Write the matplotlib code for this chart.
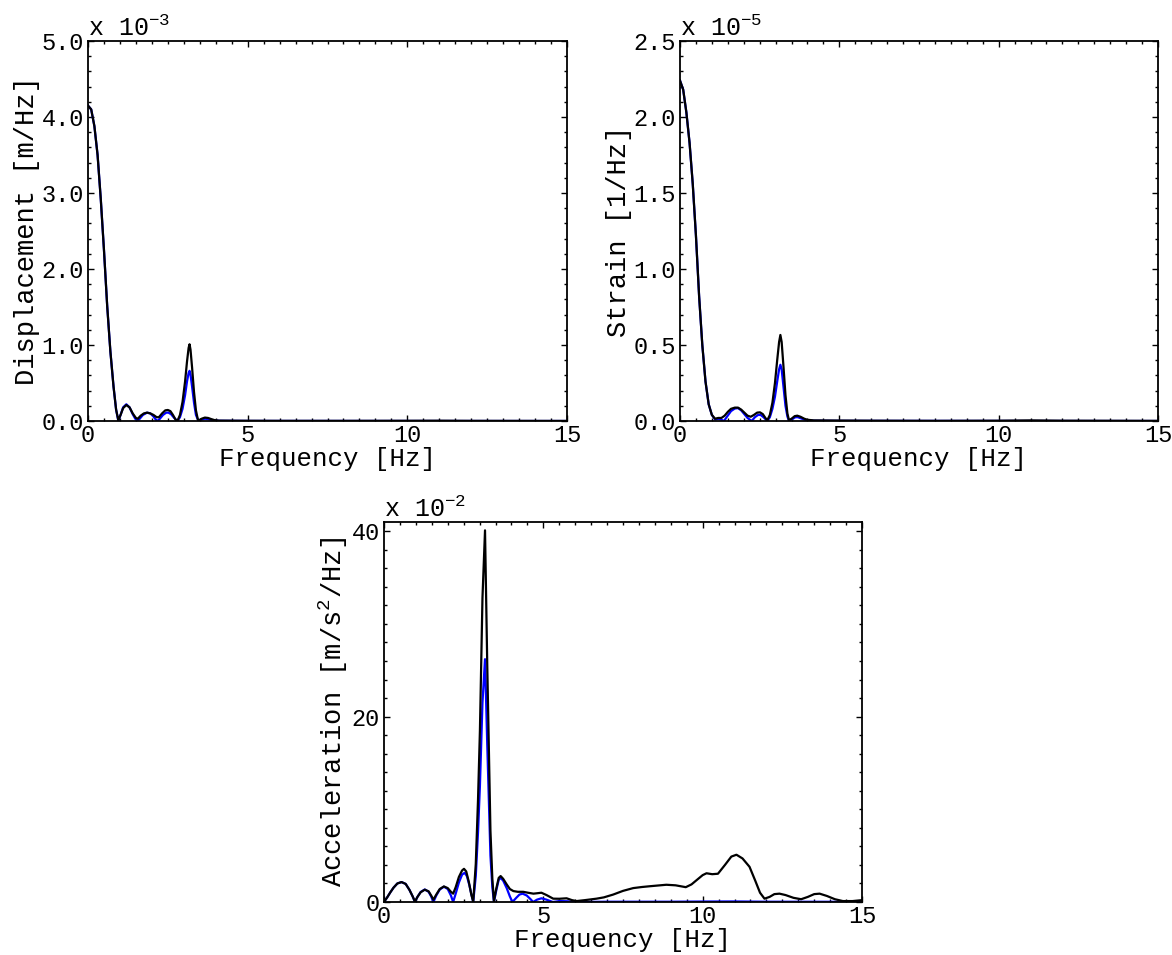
import matplotlib
matplotlib.use("Agg")
import matplotlib.pyplot as plt
from matplotlib.ticker import MultipleLocator, FormatStrFormatter

plt.rcParams['font.family'] = ['Liberation Mono', 'DejaVu Sans Mono']
plt.rcParams['mathtext.default'] = 'regular'
plt.rcParams['font.size'] = 17

# ---- displacement spectrum (x 1e-3 m/Hz) ----
disp_f_black = [0.00, 0.10, 0.20, 0.30, 0.40, 0.50, 0.60, 0.70, 0.80, 0.88, 0.95, 1.02, 1.10, 1.20,
                1.30, 1.40, 1.50, 1.56, 1.65, 1.75, 1.85, 1.95, 2.05, 2.15, 2.22, 2.32, 2.42, 2.50,
                2.58, 2.66, 2.74, 2.80, 2.88, 2.96, 3.04, 3.10, 3.15, 3.18, 3.21, 3.26, 3.32, 3.38,
                3.44, 3.48, 3.56, 3.66, 3.76, 3.86, 3.96, 4.10, 4.50, 5.00, 6.00, 8.00, 10.00, 11.00,
                12.00, 15.00]
disp_black = [4.15, 4.10, 3.88, 3.50, 2.92, 2.25, 1.52, 0.92, 0.45, 0.15, 0.01, 0.08, 0.17, 0.21,
              0.18, 0.10, 0.04, 0.03, 0.07, 0.10, 0.11, 0.10, 0.08, 0.05, 0.05, 0.10, 0.14, 0.145,
              0.13, 0.08, 0.02, 0.00, 0.08, 0.25, 0.52, 0.78, 0.96, 1.01, 0.94, 0.70, 0.38, 0.14,
              0.02, 0.01, 0.03, 0.045, 0.04, 0.025, 0.012, 0.005, 0.004, 0.003, 0.002, 0.002, 0.003, 0.004,
              0.002, 0.001]
disp_f_blue = [0.00, 0.10, 0.20, 0.30, 0.40, 0.50, 0.60, 0.70, 0.80, 0.88, 0.95, 1.02, 1.10, 1.20,
               1.30, 1.40, 1.48, 1.55, 1.62, 1.72, 1.85, 1.95, 2.05, 2.12, 2.18, 2.25, 2.35, 2.45,
               2.52, 2.60, 2.70, 2.80, 2.88, 2.96, 3.04, 3.10, 3.15, 3.18, 3.21, 3.26, 3.32, 3.38,
               3.46, 3.56, 3.66, 3.76, 3.90, 4.10, 5.00, 15.00]
disp_blue = [4.15, 4.10, 3.88, 3.50, 2.92, 2.25, 1.52, 0.92, 0.45, 0.15, 0.00, 0.08, 0.18, 0.22,
             0.18, 0.09, 0.03, 0.00, 0.03, 0.08, 0.11, 0.10, 0.06, 0.02, 0.00, 0.03, 0.08, 0.11,
             0.11, 0.09, 0.04, 0.00, 0.05, 0.16, 0.34, 0.52, 0.63, 0.66, 0.61, 0.45, 0.24, 0.08,
             0.00, 0.02, 0.03, 0.025, 0.01, 0.003, 0.001, 0.0]

# ---- strain spectrum (x 1e-5 1/Hz) ----
strain_f_black = [0.00, 0.10, 0.20, 0.30, 0.40, 0.50, 0.60, 0.70, 0.80, 0.90, 1.00, 1.10, 1.20, 1.30,
                  1.40, 1.50, 1.60, 1.72, 1.82, 1.92, 2.02, 2.12, 2.22, 2.32, 2.42, 2.51, 2.60, 2.68,
                  2.74, 2.82, 2.90, 2.98, 3.05, 3.11, 3.15, 3.19, 3.25, 3.31, 3.37, 3.42, 3.50, 3.60,
                  3.68, 3.78, 3.90, 4.00, 4.20, 5.00, 6.00, 8.00, 10.00, 11.00, 12.00, 15.00]
strain_black = [2.24, 2.18, 2.03, 1.83, 1.56, 1.22, 0.82, 0.50, 0.26, 0.11, 0.04, 0.015, 0.02, 0.02,
                0.035, 0.06, 0.08, 0.088, 0.088, 0.075, 0.055, 0.035, 0.028, 0.04, 0.055, 0.057, 0.045, 0.02,
                0.005, 0.04, 0.12, 0.25, 0.40, 0.52, 0.566, 0.52, 0.35, 0.17, 0.05, 0.005, 0.015, 0.032,
                0.035, 0.028, 0.015, 0.008, 0.004, 0.003, 0.002, 0.001, 0.002, 0.004, 0.002, 0.001]
strain_f_blue = [0.00, 0.10, 0.20, 0.30, 0.40, 0.50, 0.60, 0.70, 0.80, 0.90, 1.00, 1.10, 1.20, 1.30,
                 1.38, 1.48, 1.60, 1.72, 1.82, 1.92, 2.02, 2.12, 2.25, 2.35, 2.45, 2.53, 2.62, 2.74,
                 2.82, 2.90, 2.98, 3.05, 3.11, 3.15, 3.19, 3.25, 3.31, 3.37, 3.42, 3.52, 3.62, 3.70,
                 3.80, 3.95, 4.20, 5.00, 15.00]
strain_blue = [2.24, 2.18, 2.03, 1.83, 1.56, 1.22, 0.82, 0.50, 0.26, 0.11, 0.04, 0.01, 0.015, 0.008,
               0.00, 0.03, 0.065, 0.082, 0.085, 0.07, 0.045, 0.02, 0.00, 0.025, 0.04, 0.04, 0.025, 0.00,
               0.025, 0.08, 0.16, 0.26, 0.34, 0.37, 0.34, 0.22, 0.10, 0.03, 0.00, 0.012, 0.025, 0.025,
               0.017, 0.006, 0.002, 0.001, 0.0]

# ---- acceleration spectrum (x 1e-2 m/s^2/Hz) ----
acc_f_black = [0.00, 0.10, 0.20, 0.30, 0.42, 0.55, 0.68, 0.80, 0.90, 0.97, 1.05, 1.15, 1.28, 1.40,
               1.48, 1.55, 1.64, 1.75, 1.88, 2.00, 2.10, 2.17, 2.25, 2.35, 2.45, 2.51, 2.58, 2.66,
               2.74, 2.80, 2.88, 2.95, 3.01, 3.09, 3.17, 3.24, 3.34, 3.40, 3.45, 3.52, 3.60, 3.66,
               3.74, 3.85, 3.95, 4.06, 4.20, 4.37, 4.52, 4.69, 4.82, 4.94, 5.10, 5.31, 5.50, 5.73,
               5.90, 6.04, 6.30, 6.67, 6.90, 7.19, 7.50, 7.82, 8.10, 8.34, 8.60, 8.86, 9.15, 9.47,
               9.65, 9.80, 10.00, 10.12, 10.30, 10.48, 10.70, 10.90, 11.06, 11.25, 11.47, 11.65, 11.80, 11.94,
               12.10, 12.25, 12.41, 12.60, 12.85, 13.09, 13.30, 13.50, 13.67, 13.90, 14.15, 14.40, 14.70, 15.00]
acc_black = [0.00, 0.50, 1.05, 1.55, 2.00, 2.15, 1.95, 1.30, 0.60, 0.05, 0.55, 1.05, 1.33, 1.15,
             0.70, 0.25, 0.80, 1.40, 1.68, 1.50, 1.10, 0.90, 1.60, 2.70, 3.40, 3.58, 3.30, 2.20,
             0.80, 0.05, 4.10, 11.0, 18.5, 32.8, 40.1, 25.6, 7.7, 2.5, 0.10, 1.40, 2.60, 2.80,
             2.50, 1.90, 1.40, 1.18, 1.10, 1.10, 1.00, 0.90, 0.95, 1.00, 0.75, 0.36, 0.35, 0.40,
             0.20, 0.10, 0.20, 0.36, 0.50, 0.80, 1.20, 1.50, 1.62, 1.70, 1.78, 1.86, 1.80, 1.60,
             1.90, 2.33, 2.90, 3.10, 3.00, 3.05, 4.00, 4.90, 5.10, 4.70, 3.80, 2.30, 1.00, 0.36,
             0.55, 0.85, 0.90, 0.75, 0.45, 0.30, 0.55, 0.85, 0.90, 0.65, 0.30, 0.10, 0.10, 0.20]
acc_f_blue = [0.00, 0.10, 0.20, 0.30, 0.42, 0.55, 0.68, 0.80, 0.90, 0.97, 1.05, 1.15, 1.28, 1.40,
              1.48, 1.55, 1.64, 1.75, 1.88, 2.00, 2.10, 2.17, 2.25, 2.35, 2.45, 2.53, 2.60, 2.68,
              2.75, 2.80, 2.88, 2.95, 3.01, 3.09, 3.17, 3.24, 3.34, 3.40, 3.45, 3.52, 3.60, 3.66,
              3.74, 3.85, 3.95, 4.03, 4.15, 4.25, 4.35, 4.48, 4.60, 4.68, 4.80, 4.94, 5.10, 5.30,
              5.50, 5.75, 6.00, 7.00, 9.00, 10.00, 11.00, 12.00, 15.00]
acc_blue = [0.00, 0.50, 1.05, 1.55, 2.00, 2.15, 1.95, 1.30, 0.60, 0.00, 0.55, 1.08, 1.35, 1.10,
            0.60, 0.00, 0.70, 1.35, 1.65, 1.40, 0.70, 0.00, 0.90, 2.10, 2.95, 3.15, 2.80, 1.80,
            0.70, 0.00, 2.80, 7.5, 12.5, 21.5, 26.2, 17.0, 5.0, 1.6, 0.00, 1.20, 2.40, 2.60,
            2.30, 1.50, 0.60, 0.00, 0.45, 0.80, 0.90, 0.70, 0.30, 0.00, 0.25, 0.40, 0.25, 0.00,
            0.10, 0.08, 0.00, 0.03, 0.03, 0.05, 0.06, 0.03, 0.02]

panels = [
    # rect, f_blue, blue, f_black, black, ymax, ymajor, yminor, yfmt, ylabel, scale
    ([88 / 1172, 1 - 421 / 955, 479 / 1172, 380 / 955], disp_f_blue, disp_blue, disp_f_black, disp_black,
     5.0, 1.0, 0.2, '%.1f', 'Displacement [m/Hz]', 'x 10$^{-3}$'),
    ([680 / 1172, 1 - 421 / 955, 478 / 1172, 380 / 955], strain_f_blue, strain_blue, strain_f_black, strain_black,
     2.5, 0.5, 0.1, '%.1f', 'Strain [1/Hz]', 'x 10$^{-5}$'),
    ([384 / 1172, 1 - 902 / 955, 478 / 1172, 380 / 955], acc_f_blue, acc_blue, acc_f_black, acc_black,
     41.0, 20, 2, '%d', 'Acceleration [m/s$^2$/Hz]', 'x 10$^{-2}$'),
]

fig = plt.figure(figsize=(11.72, 9.55), dpi=100)

for rect, fb, vb, fk, vk, ymax, ymaj, ymin, yfmt, ylab, scale in panels:
    ax = fig.add_axes(rect)
    ax.plot(fb, vb, color='#0000ff', lw=1.6)
    ax.plot(fk, vk, color='black', lw=1.6)
    ax.set_xlim(0, 15)
    ax.set_ylim(0, ymax)
    ax.xaxis.set_major_locator(MultipleLocator(5))
    ax.xaxis.set_minor_locator(MultipleLocator(0.5))
    ax.yaxis.set_major_locator(MultipleLocator(ymaj))
    ax.yaxis.set_minor_locator(MultipleLocator(ymin))
    ax.yaxis.set_major_formatter(FormatStrFormatter(yfmt))
    ax.tick_params(which='both', direction='in', top=True, right=True, width=1.0)
    ax.tick_params(which='major', length=4)
    ax.tick_params(which='minor', length=2.2)
    ax.tick_params(axis='x', pad=2.5)
    ax.tick_params(axis='y', pad=3)
    for sp in ax.spines.values():
        sp.set_linewidth(1.3)
    ax.set_xlabel('Frequency [Hz]', fontsize=18.5, labelpad=0)
    ax.set_ylabel(ylab, fontsize=19.5, labelpad=1)
    ax.text(0, 1.0, scale, transform=ax.transAxes, ha='left', va='bottom', fontsize=18)

fig.savefig('out.png', dpi=100)
